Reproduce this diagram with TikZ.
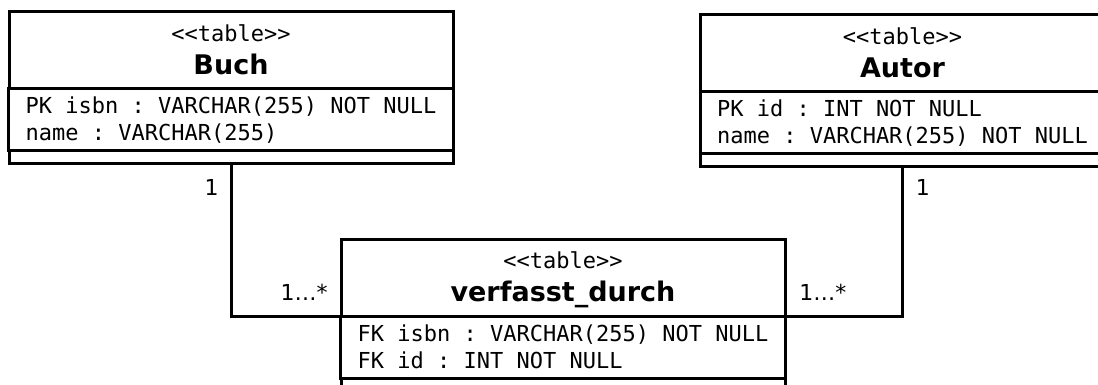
\documentclass[tikz,border=0pt]{standalone}
\usepackage{fontspec}
\setmonofont{DejaVu Sans Mono}
\setsansfont{DejaVu Sans}
\usetikzlibrary{positioning}

% table boxes: header, attributes, empty bottom part (argument = box width)
\tikzset{
  tabhead/.style={draw, line width=1.5pt, outer sep=0pt, inner sep=0pt,
    minimum width=#1, minimum height=38.5pt, align=center,
    font=\fontsize{11}{16.5}\selectfont},
  tabhead/.default=222pt,
  tabattr/.style={draw, line width=1.5pt, outer sep=0pt, inner xsep=8.5pt, inner ysep=0pt,
    minimum width=#1, minimum height=31pt, align=left,
    font=\ttfamily\fontsize{11}{13.5}\selectfont},
  tabattr/.default=222pt,
  tabops/.style={draw, line width=1.5pt, outer sep=0pt, inner sep=0pt,
    minimum width=#1, minimum height=6.5pt},
  tabops/.default=222pt,
  assoc/.style={line width=1.5pt},
  mult/.style={inner sep=0pt, font=\sffamily\fontsize{11}{13}\selectfont},
}
% header text: stereotype over table name, with fixed top and bottom struts
\newcommand{\tabtitle}[1]{%
  {\ttfamily\rule{0pt}{12pt}{<}{<}table{>}{>}}\\
  {\sffamily\bfseries\fontsize{13.5}{16.5}\selectfont #1\rule[-4.5pt]{0pt}{4.5pt}}}

\begin{document}
\begin{tikzpicture}[x=0.5pt,y=-0.5pt]
  \useasboundingbox (0,0) rectangle (1098,385);
  \clip (0,0) rectangle (1098,385);

  % Buch
  \node[tabhead, anchor=north west] (buch) at (9,12) {\tabtitle{Buch}};
  \node[tabattr, below=0pt of buch] (buchattr) {PK isbn : VARCHAR(255) NOT NULL\\name : VARCHAR(255)};
  \node[tabops, below=0pt of buchattr] (buchops) {};

  % Autor
  \node[tabhead=202.5pt, anchor=north west] (autor) at (700,15) {\tabtitle{Autor}};
  \node[tabattr=202.5pt, below=0pt of autor] (autorattr) {PK id : INT NOT NULL\\name : VARCHAR(255) NOT NULL};
  \node[tabops=202.5pt, below=0pt of autorattr] (autorops) {};

  % verfasst_durch
  \node[tabhead, anchor=north west] (vd) at (341,239) {\tabtitle{verfasst\_durch}};
  \node[tabattr, below=0pt of vd] (vdattr) {FK isbn : VARCHAR(255) NOT NULL\\FK id : INT NOT NULL};
  \node[tabops, below=0pt of vdattr] (vdops) {};

  % associations
  \draw[assoc] (buchops.south) |- (vd.south west);
  \draw[assoc] (autorops.south) |- (vd.south east);

  \node[mult, anchor=base east] (m1) at ([xshift=-6pt,yshift=-15.5pt]buchops.south) {1};
  \node[mult, anchor=base west] (m2) at ([xshift=6.5pt,yshift=-14pt]autorops.south) {1};
  \node[mult, anchor=base east] (m3) at ([xshift=-6.5pt,yshift=8pt]vd.south west) {1…*};
  \node[mult, anchor=base west] (m4) at ([xshift=7pt,yshift=8pt]vd.south east) {1…*};
\end{tikzpicture}
\end{document}
